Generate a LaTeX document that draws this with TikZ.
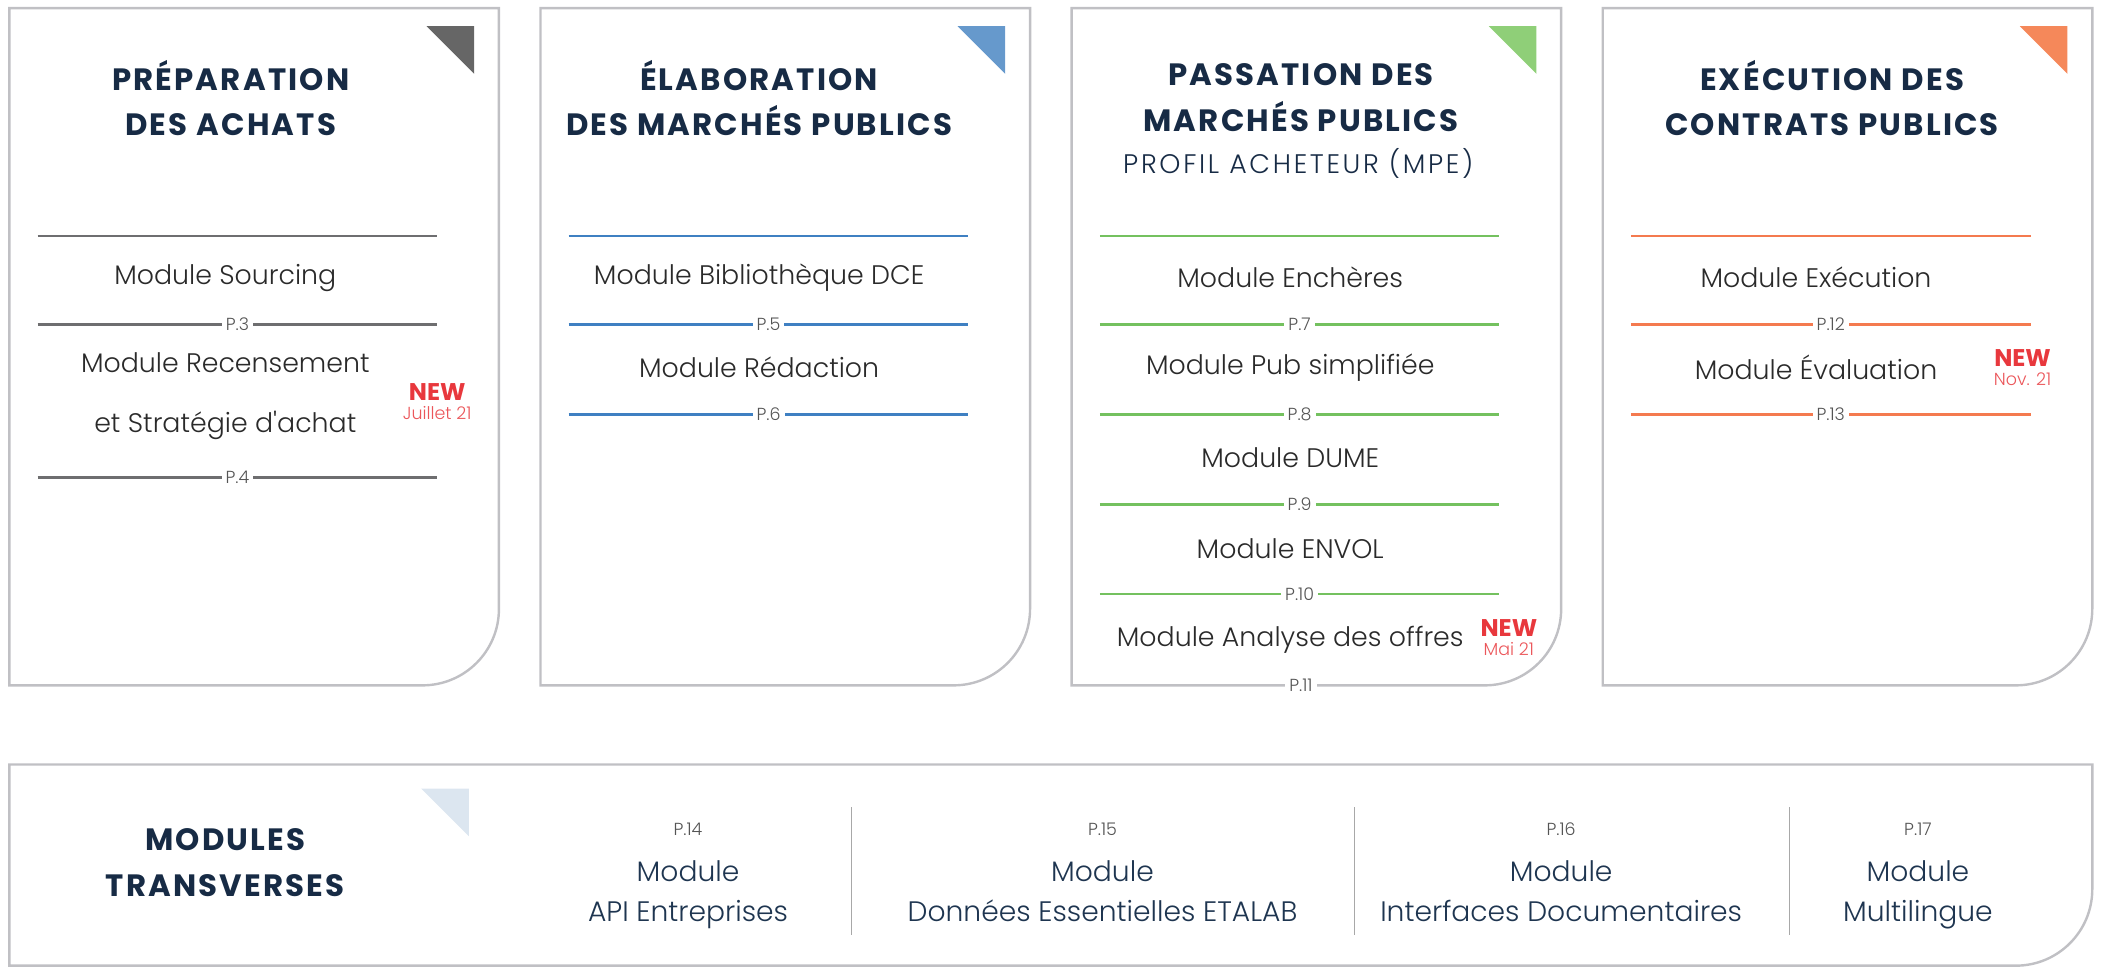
\documentclass[tikz,border=0pt]{standalone}
\usepackage{fontspec}
\setmainfont{Poppins}
\newfontfamily\titlefont[LetterSpace=7]{Poppins}
\newfontfamily\lightfont{Poppins Light}
\newfontfamily\subfont[LetterSpace=10]{Poppins Light}
\usetikzlibrary{positioning}
\definecolor{frame}{HTML}{C0C0C4}
\definecolor{navy}{HTML}{172B45}
\definecolor{modgray}{HTML}{2A2A2A}
\definecolor{pagegray}{HTML}{555555}
\definecolor{redtag}{HTML}{E8383D}
\definecolor{linegray}{HTML}{6E6E70}
\definecolor{lineblue}{HTML}{3F80C2}
\definecolor{linegreen}{HTML}{74C15F}
\definecolor{lineorange}{HTML}{F47A4F}
\definecolor{trigray}{HTML}{666666}
\definecolor{triblue}{HTML}{6699CC}
\definecolor{trigreen}{HTML}{8FCF78}
\definecolor{triorange}{HTML}{F5885A}
\definecolor{tripale}{HTML}{DCE6F0}
\definecolor{colsep}{HTML}{A8A8A8}
\definecolor{botnavy}{HTML}{1E3550}
\tikzset{
  box/.style={draw=frame, line width=1.8pt},
  title/.style={align=center, text=navy, font=\titlefont\bfseries\fontsize{23}{34}\selectfont},
  modname/.style={align=center, text=modgray, font=\lightfont\fontsize{20}{45}\selectfont},
  colname/.style={align=center, text=botnavy, font=\lightfont\fontsize{21}{30}\selectfont},
  page/.style={fill=white, inner xsep=3pt, inner ysep=1pt, text=pagegray, font=\lightfont\fontsize{13}{14}\selectfont},
  newtag/.style={text=redtag, inner sep=0pt, font=\bfseries\fontsize{18}{19}\selectfont},
  datetag/.style={text=redtag!85, inner sep=0pt, font=\lightfont\fontsize{13}{14}\selectfont},
  sep/.style={line width=1.8pt}
}
\begin{document}
\begin{tikzpicture}[x=1pt, y=1pt]
    \useasboundingbox (0,0) rectangle (1568,-721.8);
    % the four phases
    \draw [box] (7,-6) -- (372,-6) -- (372,-454) arc[start angle=0, end angle=-90, radius=57] -- (7,-511) -- cycle;
    \draw [box] (403,-6) -- (768,-6) -- (768,-454) arc[start angle=0, end angle=-90, radius=57] -- (403,-511) -- cycle;
    \draw [box] (799,-6) -- (1164,-6) -- (1164,-454) arc[start angle=0, end angle=-90, radius=57] -- (799,-511) -- cycle;
    \draw [box] (1195,-6) -- (1560,-6) -- (1560,-454) arc[start angle=0, end angle=-90, radius=57] -- (1195,-511) -- cycle;
    \fill [trigray] (318,-19.5) -- (353.5,-19.5) -- (353.5,-55) -- cycle;
    \fill [triblue] (714,-19.5) -- (749.5,-19.5) -- (749.5,-55) -- cycle;
    \fill [trigreen] (1110,-19.5) -- (1145.5,-19.5) -- (1145.5,-55) -- cycle;
    \fill [triorange] (1506,-19.5) -- (1541.5,-19.5) -- (1541.5,-55) -- cycle;

    % preparation
    \node [title] (prep) at (172,-73) {PRÉPARATION\\DES ACHATS};
    \draw [sep, linegray] (28,-176) -- (326,-176);
    \node [modname] (sourcing) at (168,-207) {Module Sourcing};
    \draw [sep, linegray] (28,-242) -- (326,-242) node[page, midway] (p3) {P.3};
    \node [modname] (recens) at (168,-295.5) {Module Recensement\\et Stratégie d'achat};
    \node [newtag] (new1) at (326,-292) {NEW};
    \node [datetag, below=4pt of new1] (date1) {Juillet 21};
    \draw [sep, linegray] (28,-356) -- (326,-356) node[page, midway] (p4) {P.4};

    % elaboration
    \node [title] (elab) at (566,-73) {ÉLABORATION\\DES MARCHÉS PUBLICS};
    \draw [sep, lineblue] (424,-176) -- (722,-176);
    \node [modname] (biblio) at (566,-207) {Module Bibliothèque DCE};
    \draw [sep, lineblue] (424,-242) -- (722,-242) node[page, midway] (p5) {P.5};
    \node [modname] (redac) at (566,-274) {Module Rédaction};
    \draw [sep, lineblue] (424,-309) -- (722,-309) node[page, midway] (p6) {P.6};

    % passation
    \node [title] (pass) at (970,-73) {PASSATION DES\\MARCHÉS PUBLICS};
    \node [text=navy, font=\subfont\fontsize{20}{21}\selectfont] (profil) at (968,-122) {PROFIL ACHETEUR (MPE)};
    \draw [sep, linegreen] (820,-176) -- (1118,-176);
    \node [modname] (encheres) at (962,-207) {Module Enchères};
    \draw [sep, linegreen] (820,-242) -- (1118,-242) node[page, midway] (p7) {P.7};
    \node [modname] (pub) at (962,-274) {Module Pub simplifiée};
    \draw [sep, linegreen] (820,-309) -- (1118,-309) node[page, midway] (p8) {P.8};
    \node [modname] (dume) at (962,-341) {Module DUME};
    \draw [sep, linegreen] (820,-376) -- (1118,-376) node[page, midway] (p9) {P.9};
    \node [modname] (envol) at (962,-409) {Module ENVOL};
    \draw [sep, linegreen] (820,-443) -- (1118,-443) node[page, midway] (p10) {P.10};
    \node [modname] (analyse) at (962,-477) {Module Analyse des offres};
    \node [newtag] (new2) at (1125,-468) {NEW};
    \node [datetag, below=4pt of new2] (date2) {Mai 21};
    \node [page] (p11) at (970,-511) {P.11};

    % execution
    \node [title] (exec) at (1366,-73) {EXÉCUTION DES\\CONTRATS PUBLICS};
    \draw [sep, lineorange] (1216,-176) -- (1514,-176);
    \node [modname] (execmod) at (1354,-207) {Module Exécution};
    \draw [sep, lineorange] (1216,-242) -- (1514,-242) node[page, midway] (p12) {P.12};
    \node [modname] (evalmod) at (1354,-274) {Module Évaluation};
    \node [newtag] (new3) at (1508,-267) {NEW};
    \node [datetag, below=4pt of new3] (date3) {Nov. 21};
    \draw [sep, lineorange] (1216,-309) -- (1514,-309) node[page, midway] (p13) {P.13};

    % transverse modules
    \draw [box] (7,-570) -- (1560,-570) -- (1560,-663) arc[start angle=0, end angle=-90, radius=57] -- (7,-720) -- cycle;
    \fill [tripale] (314,-588) -- (349.5,-588) -- (349.5,-623.5) -- cycle;
    \node [title] (transv) at (168,-643) {MODULES\\TRANSVERSES};
    \draw [colsep, line width=1pt] (635,-602) -- (635,-697);
    \draw [colsep, line width=1pt] (1010,-602) -- (1010,-697);
    \draw [colsep, line width=1pt] (1334,-602) -- (1334,-697);
    \node [page] (p14) at (513,-618) {P.14};
    \node [colname] (api) at (513,-667) {Module\\API Entreprises};
    \node [page] (p15) at (822,-618) {P.15};
    \node [colname] (etalab) at (822,-664.5) {Module\\Données Essentielles ETALAB};
    \node [page] (p16) at (1164,-618) {P.16};
    \node [colname] (interf) at (1164,-664.5) {Module\\Interfaces Documentaires};
    \node [page] (p17) at (1430,-618) {P.17};
    \node [colname] (multi) at (1430,-667) {Module\\Multilingue};
\end{tikzpicture}
\end{document}
